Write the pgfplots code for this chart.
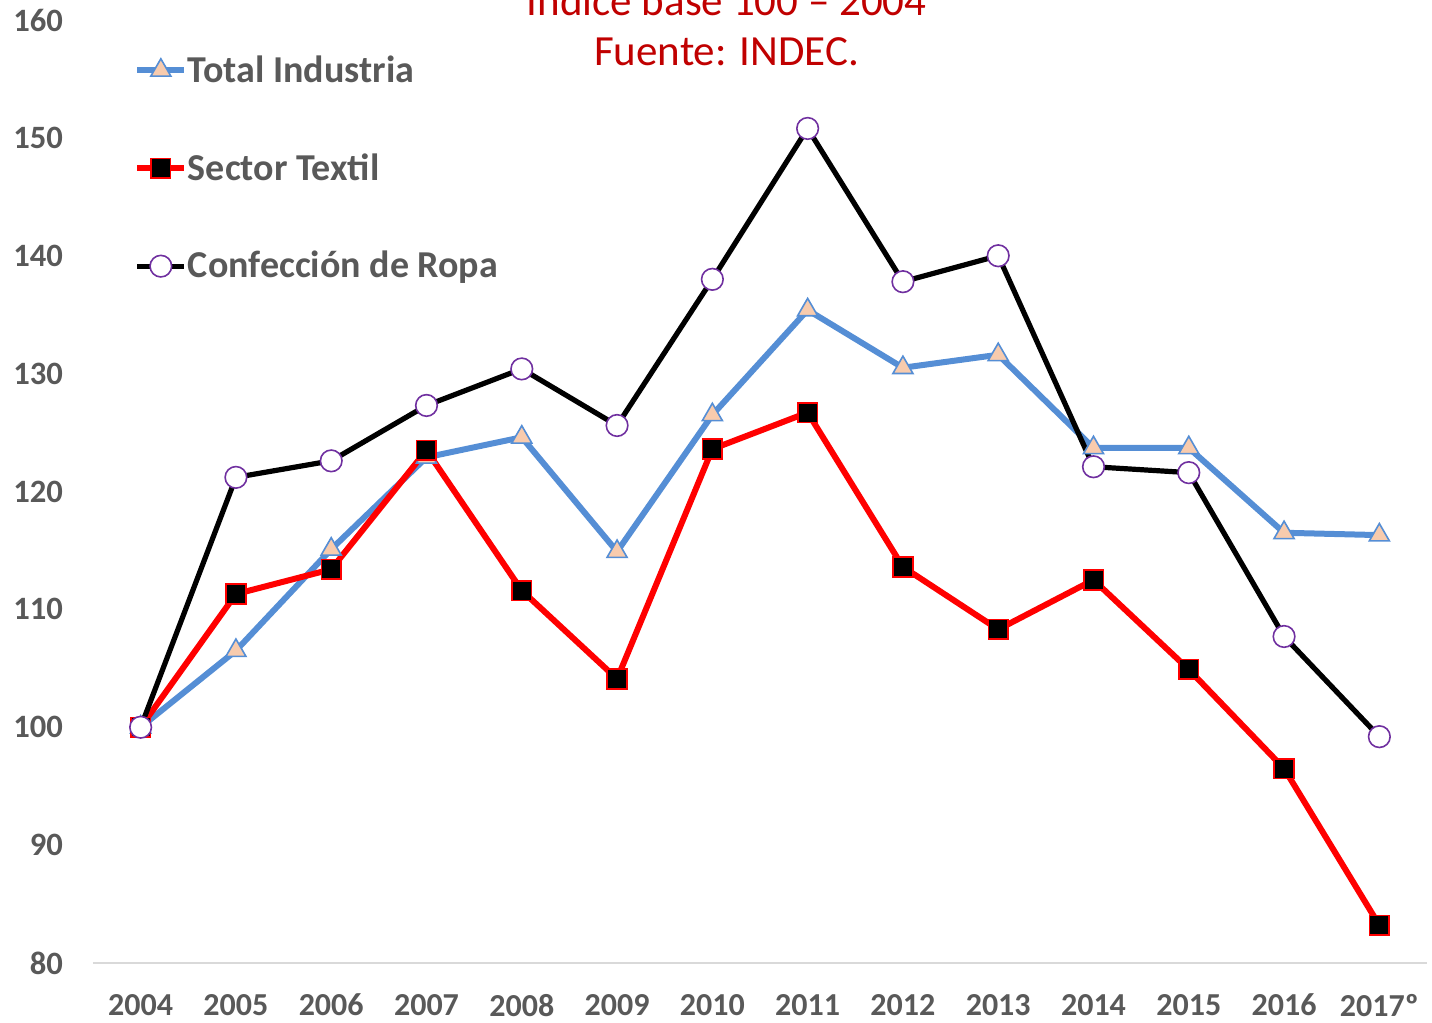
\documentclass[border=0pt]{standalone}
\usepackage{pgfplots}
\pgfplotsset{compat=1.18}
\usepackage{fontspec}
\setmainfont{Carlito}
\definecolor{tblue}{HTML}{558ED5}
\definecolor{tred}{HTML}{FF0000}
\definecolor{peach}{HTML}{F8CBAD}
\definecolor{purp}{HTML}{7030A0}
\definecolor{tgray}{HTML}{595959}
\definecolor{lgray}{HTML}{D9D9D9}
\definecolor{ttl}{HTML}{C00000}
\begin{document}
\begin{tikzpicture}
\useasboundingbox (-46.5pt,-30pt) rectangle (669.5pt,481.5pt);
\begin{axis}[
  scale only axis, width=667pt, height=471.5pt,
  xmin=-0.5, xmax=13.5, ymin=80, ymax=160,
  xtick={0,...,13},
  xticklabels={2004,2005,2006,2007,2008,2009,2010,2011,2012,2013,2014,2015,2016,2017º},
  ytick={80,90,...,160},
  axis x line=bottom, axis y line=left,
  axis line style={-},
  x axis line style={draw=lgray, line width=0.8pt},
  y axis line style={draw=none},
  major tick length=0pt,
  /pgf/number format/assume math mode=true,
  yticklabel style={font=\fontsize{16.3}{16.3}\selectfont\bfseries, text=tgray, xshift=-11.5pt},
  xticklabel style={font=\fontsize{16}{16}\selectfont\bfseries, text=tgray, yshift=-12pt},
  clip=false,
  legend style={draw=none, fill=none, at={(0.0262,0.9676)}, anchor=north west,
    font=\fontsize{19}{19}\selectfont\bfseries, text=tgray, row sep=33.5pt,
    nodes={inner sep=0.3pt}},
  legend cell align=left,
  legend image code/.code={\draw[mark repeat=2,mark phase=2,#1] plot coordinates {(0pt,0pt) (11.75pt,0pt) (23.5pt,0pt)};},
]
\addplot[tblue, line width=3pt, mark=triangle*, mark size=5.8pt, mark options={fill=peach, draw=tblue, line width=0.8pt}] coordinates {
(0,100) (1,106.5) (2,115.1) (3,122.9) (4,124.6) (5,114.9) (6,126.5) (7,135.4) (8,130.5) (9,131.6) (10,123.7) (11,123.7) (12,116.5) (13,116.3)};
\addlegendentry{Total Industria}
\addplot[tred, line width=3pt, mark=square*, mark size=4.9pt, mark options={fill=black, draw=tred, line width=0.8pt}] coordinates {
(0,100) (1,111.3) (2,113.4) (3,123.5) (4,111.6) (5,104.1) (6,123.6) (7,126.7) (8,113.6) (9,108.3) (10,112.5) (11,104.9) (12,96.5) (13,83.2)};
\addlegendentry{Sector Textil}
\addplot[black, line width=2.6pt, mark=*, mark size=5.4pt, mark options={fill=white, draw=purp, line width=0.8pt}] coordinates {
(0,100) (1,121.2) (2,122.6) (3,127.3) (4,130.4) (5,125.6) (6,138.0) (7,150.8) (8,137.8) (9,140.0) (10,122.1) (11,121.6) (12,107.7) (13,99.2)};
\addlegendentry{Confección de Ropa}
\node[anchor=base, text=ttl, font=\fontsize{21.5}{21.5}\selectfont] at (axis cs:6.15,160.42) {Índice base 100 – 2004};
\node[anchor=base, text=ttl, font=\fontsize{21.5}{21.5}\selectfont] at (axis cs:6.15,156.18) {Fuente: INDEC.};
\end{axis}
\end{tikzpicture}
\end{document}
